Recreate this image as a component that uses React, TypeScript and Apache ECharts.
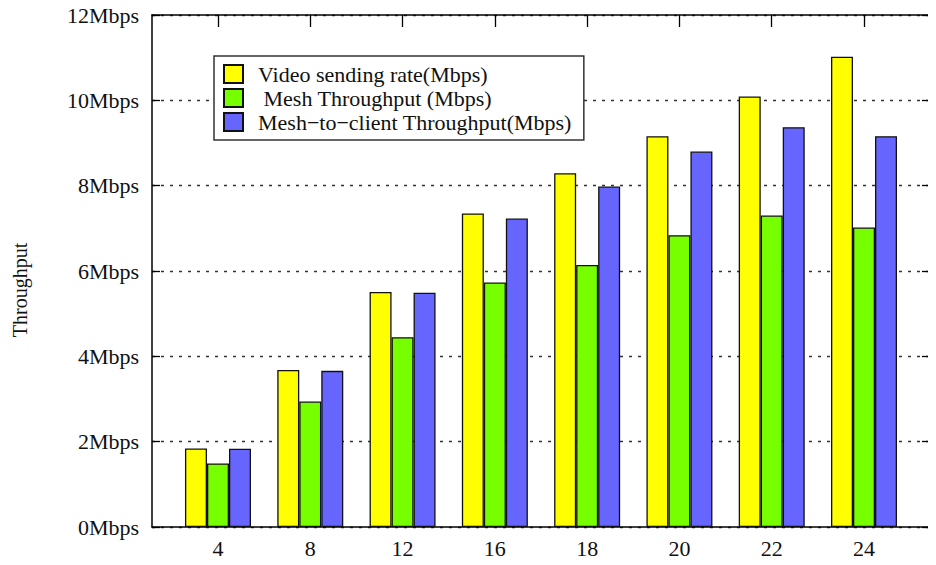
import React, { useEffect, useRef } from "react";
import * as echarts from "echarts";

const categories = ["4", "8", "12", "16", "18", "20", "22", "24"];
const seriesNames = [
  "Video sending rate(Mbps)",
  " Mesh Throughput (Mbps)",
  "Mesh\u2212to\u2212client Throughput(Mbps)",
];
const videoRate = [1.84, 3.68, 5.51, 7.35, 8.29, 9.16, 10.09, 11.02];
const meshThroughput = [1.49, 2.94, 4.45, 5.73, 6.14, 6.84, 7.3, 7.02];
const clientThroughput = [1.835, 3.66, 5.49, 7.23, 7.98, 8.8, 9.37, 9.16];
const yTicks = [0, 2, 4, 6, 8, 10, 12];
const seriesColors = ["#ffff00", "#77ff00", "#6666ff"];

const FONT = "'Liberation Serif', 'DejaVu Serif', serif";

export default function App() {
  const ref = useRef<HTMLDivElement>(null);

  useEffect(() => {
    if (!ref.current) return;
    const chart = echarts.init(ref.current, null, { renderer: "svg" });
    const positions = categories.map((_, i) => i);
    const xMin = -0.715;
    const xMax = categories.length - 1 + 0.715;
    const values = [videoRate, meshThroughput, clientThroughput];

    chart.setOption({
      animation: false,
      backgroundColor: "#ffffff",
      textStyle: { fontFamily: FONT },
      grid: {
        left: 152,
        top: 15,
        right: 6,
        bottom: 38,
        containLabel: false,
        outerBoundsMode: "none",
      },
      // y-axis title, set a little below the plot's middle
      graphic: [
        {
          type: "text",
          x: 20,
          y: 290,
          rotation: Math.PI / 2,
          style: {
            text: "Throughput",
            fontFamily: FONT,
            fontSize: 20,
            fill: "#111",
            align: "center",
            verticalAlign: "middle",
          },
        },
      ],
      legend: {
        orient: "vertical",
        left: 214,
        top: 56,
        itemWidth: 19,
        itemHeight: 18,
        itemGap: 2,
        padding: [7, 12, 7, 9],
        borderColor: "#333",
        borderWidth: 1.5,
        backgroundColor: "#fff",
        selectedMode: false,
        textStyle: {
          fontFamily: FONT,
          fontSize: 22,
          color: "#111",
          lineHeight: 18,
          padding: [0, 0, 0, 10],
        },
        data: seriesNames.map((n) => ({ name: n, icon: "rect" })),
      },
      xAxis: [
        {
          type: "value",
          min: xMin,
          max: xMax,
          position: "bottom",
          axisLine: { show: true, onZero: false, lineStyle: { color: "#000", width: 1.5 } },
          axisTick: { show: true, inside: true, length: 12, customValues: positions, lineStyle: { color: "#000", width: 1.3 } },
          axisLabel: {
            show: true,
            customValues: positions,
            formatter: (v: number) => categories[Math.round(v)] ?? "",
            fontFamily: FONT,
            fontSize: 22,
            color: "#111",
            margin: 10,
          },
          splitLine: { show: false },
        },
        {
          type: "value",
          min: xMin,
          max: xMax,
          position: "top",
          axisLine: { show: true, onZero: false, lineStyle: { color: "#000", width: 1.5 } },
          axisTick: { show: true, inside: true, length: 12, customValues: positions, lineStyle: { color: "#000", width: 1.3 } },
          axisLabel: { show: false },
          splitLine: { show: false },
        },
      ],
      yAxis: [
        {
          type: "value",
          min: 0,
          max: 12,
          interval: 2,
          position: "left",
          axisLine: { show: true, onZero: false, lineStyle: { color: "#000", width: 1.5 } },
          axisTick: { show: true, inside: true, length: 8, lineStyle: { color: "#000", width: 1.3 } },
          axisLabel: {
            formatter: (v: number) => (yTicks.includes(v) ? `${v}Mbps` : ""),
            fontFamily: FONT,
            fontSize: 22,
            color: "#111",
            margin: 13,
          },
          splitLine: {
            show: true,
            lineStyle: { color: "#333", width: 1.3, type: [3, 6] },
          },
        },
        {
          type: "value",
          min: 0,
          max: 12,
          interval: 2,
          position: "right",
          axisLine: { show: true, onZero: false, lineStyle: { color: "#000", width: 1.5 } },
          axisTick: { show: true, inside: true, length: 8, lineStyle: { color: "#000", width: 1.3 } },
          axisLabel: { show: false },
          splitLine: { show: false },
        },
      ],
      series: seriesNames.map((name, s) => ({
        name,
        type: "bar",
        xAxisIndex: 0,
        yAxisIndex: 0,
        barWidth: 22,
        barGap: "0%",
        data: values[s].map((v, i) => [positions[i], v]),
        itemStyle: {
          color: seriesColors[s],
          borderColor: "#111",
          borderWidth: 1.3,
        },
        emphasis: { disabled: true },
      })),
    });

    return () => chart.dispose();
  }, []);

  return <div ref={ref} style={{ width: 936, height: 565, margin: -8 }} />;
}
